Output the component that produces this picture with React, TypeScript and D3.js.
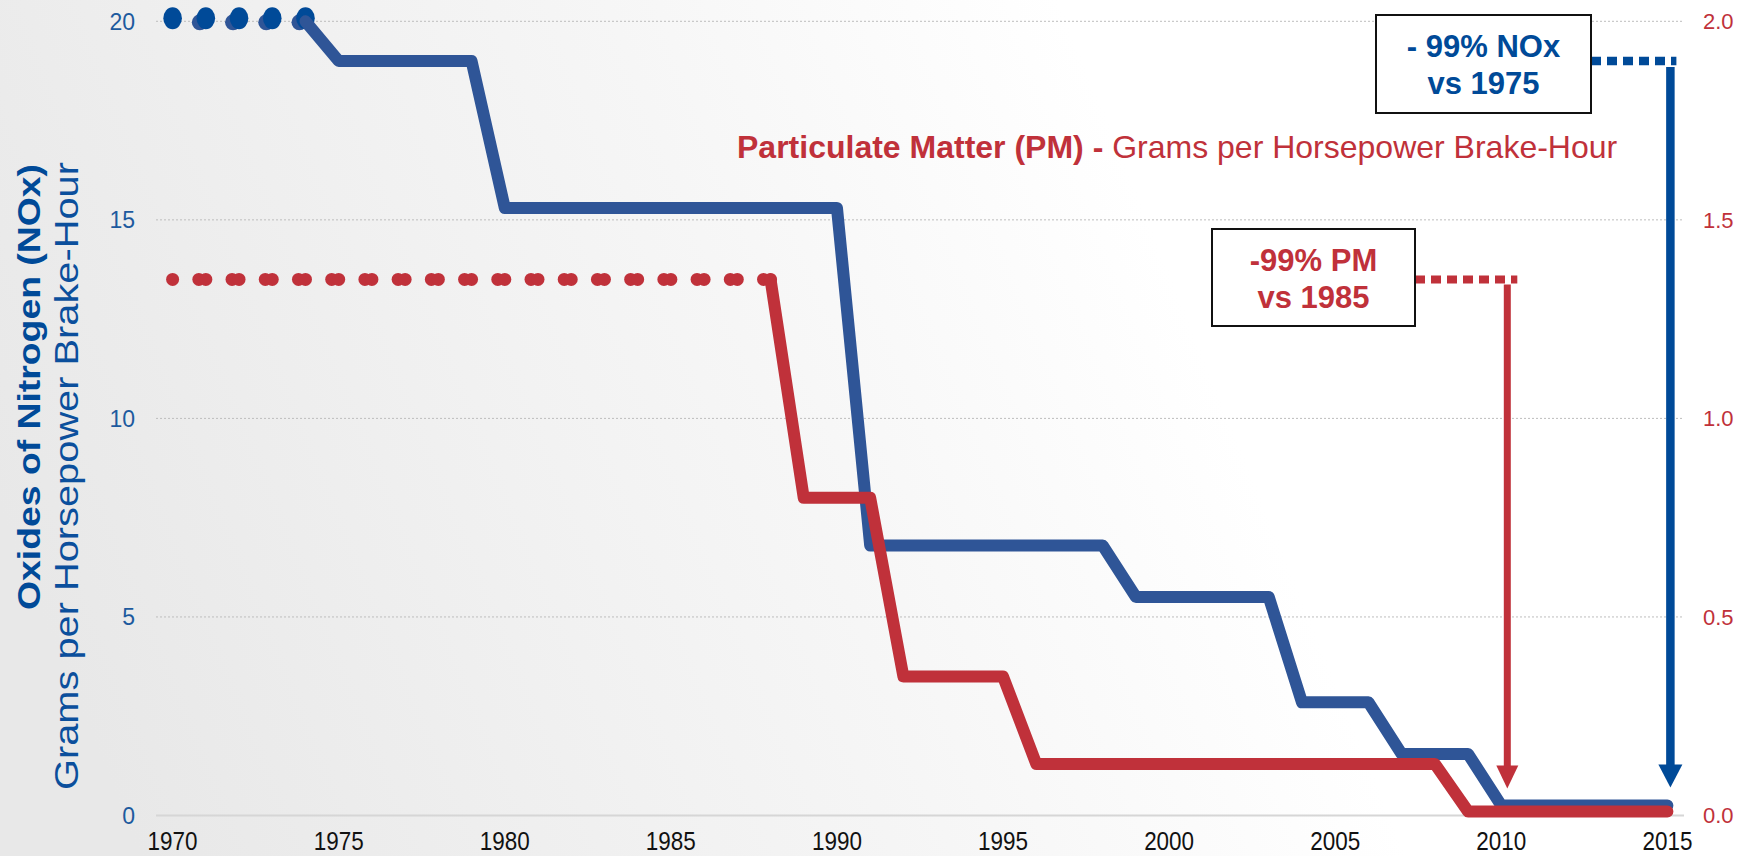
import React from 'react';
import * as d3 from 'd3';

const W = 1742;
const H = 856;

// ---- Data ----
const noxDotYears = [1970, 1971, 1972, 1973, 1974];
const noxDotValue = 20;
const noxYears = [1974, 1975, 1979, 1980, 1990, 1991, 1998, 1999, 2003, 2004, 2006, 2007, 2009, 2010, 2015];
const noxValues = [20, 19, 19, 15.3, 15.3, 6.8, 6.8, 5.5, 5.5, 2.85, 2.85, 1.55, 1.55, 0.25, 0.25];

const pmDotYears = [1970, 1971, 1972, 1973, 1974, 1975, 1976, 1977, 1978, 1979, 1980, 1981, 1982, 1983, 1984, 1985, 1986, 1987, 1988];
const pmDotValue = 1.35;
const pmYears = [1988, 1989, 1991, 1992, 1995, 1996, 2008, 2009, 2015];
const pmValues = [1.35, 0.8, 0.8, 0.35, 0.35, 0.13, 0.13, 0.01, 0.01];

const yearTicks = [1970, 1975, 1980, 1985, 1990, 1995, 2000, 2005, 2010, 2015];
const noxTicks = [0, 5, 10, 15, 20];
const pmTicks = [0, 0.5, 1.0, 1.5, 2.0];

const noxRefYear = 1975;
const noxRefValue = 19;
const pmRefYear = 1985;
const pmRefValue = 1.35;
const noxArrowYear = 2015;
const pmArrowYear = 2010;

// ---- Colors ----
const BLUE_LINE = '#2F5597';
const BLUE_DARK = '#004A98';
const BLUE_TICK = '#1D5A9E';
const RED = '#C0313A';
const FONT = '"Liberation Sans", Arial, Helvetica, sans-serif';

export default function App() {
  const x = d3.scaleLinear().domain([1969.5, 2015.5]).range([156, 1684]);
  const yL = d3.scaleLinear().domain([0, 20]).range([815.5, 21.3]);
  const yR = d3.scaleLinear().domain([0, 2]).range([815.5, 21.3]);

  const noxLine = d3
    .line<number>()
    .x((d, i) => x(noxYears[i]))
    .y((d) => yL(d))(noxValues) as string;
  const pmLine = d3
    .line<number>()
    .x((d, i) => x(pmYears[i]))
    .y((d) => yR(d))(pmValues) as string;

  const [x0, x1] = x.range();

  // annotation geometry
  const noxArrowX = x(noxArrowYear) + 3;
  const noxArrowY = yL(noxRefValue);
  const noxTipY = yL(noxValues[noxValues.length - 1]) - 18;
  const pmArrowX = x(pmArrowYear) + 6;
  const pmArrowY = yR(pmRefValue);
  const pmTipY = yR(pmValues[pmValues.length - 1]) - 23;

  const noxBox = { x: 1376, y: 15, w: 215, h: 98 };
  const pmBox = { x: 1212, y: 229, w: 203, h: 97 };

  return (
    <svg
      width={W}
      height={H}
      style={{ position: 'absolute', left: 0, top: 0, display: 'block' }}
      fontFamily={FONT}
    >
      <defs>
        <linearGradient id="bg" x1="0" y1="0.6" x2="1" y2="0.4">
          <stop offset="0" stopColor="#e8e8e8" />
          <stop offset="0.45" stopColor="#f6f6f6" />
          <stop offset="0.7" stopColor="#ffffff" />
          <stop offset="1" stopColor="#ffffff" />
        </linearGradient>
      </defs>
      <rect x={0} y={0} width={W} height={H} fill="url(#bg)" />

      {/* grid */}
      {noxTicks.map((t) =>
        t === 0 ? (
          <line key={t} x1={x0} x2={x1} y1={yL(t)} y2={yL(t)} stroke="#d6d6d6" strokeWidth={2} />
        ) : (
          <line
            key={t}
            x1={x0}
            x2={x1}
            y1={yL(t)}
            y2={yL(t)}
            stroke="#bdbdbd"
            strokeWidth={1}
            strokeDasharray="2 2"
          />
        )
      )}

      {/* left ticks */}
      {noxTicks.map((t) => (
        <text
          key={t}
          x={135}
          y={yL(t)}
          dy="0.36em"
          textAnchor="end"
          fontSize={23}
          fill={BLUE_TICK}
        >
          {t}
        </text>
      ))}

      {/* right ticks */}
      {pmTicks.map((t) => (
        <text key={t} x={1703} y={yR(t)} dy="0.36em" textAnchor="start" fontSize={22} fill={RED}>
          {d3.format('.1f')(t)}
        </text>
      ))}

      {/* year ticks */}
      {yearTicks.map((t) => (
        <text
          key={t}
          x={x(t)}
          y={850}
          textAnchor="middle"
          fontSize={26}
          fill="#111"
          textLength={50}
          lengthAdjust="spacingAndGlyphs"
        >
          {t}
        </text>
      ))}

      {/* left axis title */}
      <text
        transform={`translate(40, 387) rotate(-90)`}
        textAnchor="middle"
        fontSize={32}
        fontWeight="bold"
        fill={BLUE_DARK}
        textLength={446}
        lengthAdjust="spacingAndGlyphs"
      >
        Oxides of Nitrogen (NOx)
      </text>
      <text
        transform={`translate(78, 476) rotate(-90)`}
        textAnchor="middle"
        fontSize={33}
        fill="#0B4F9C"
        textLength={628}
        lengthAdjust="spacingAndGlyphs"
      >
        Grams per Horsepower Brake-Hour
      </text>

      {/* PM title */}
      <text x={737} y={158} fontSize={32} fill={RED}>
        <tspan fontWeight="bold">Particulate Matter (PM) -</tspan>
        <tspan> Grams per Horsepower Brake-Hour</tspan>
      </text>

      {/* NOx dotted (pre-1974) */}
      {noxDotYears.slice(1).map((yr) => (
        <ellipse key={'nb' + yr} cx={x(yr) - 6} cy={yL(noxDotValue) + 1} rx={8} ry={8} fill={BLUE_LINE} />
      ))}
      {noxDotYears.map((yr) => (
        <ellipse key={'n' + yr} cx={x(yr)} cy={yL(noxDotValue) - 3} rx={9.3} ry={11} fill={BLUE_DARK} />
      ))}

      {/* NOx line */}
      <path
        d={noxLine}
        fill="none"
        stroke={BLUE_LINE}
        strokeWidth={12}
        strokeLinejoin="round"
        strokeLinecap="round"
      />

      {/* PM dotted (pre-1988) */}
      {pmDotYears.slice(1).map((yr) => (
        <circle key={'pb' + yr} cx={x(yr) - 7} cy={yR(pmDotValue)} r={6.5} fill={RED} />
      ))}
      {pmDotYears.map((yr) => (
        <circle key={'p' + yr} cx={x(yr)} cy={yR(pmDotValue)} r={6.5} fill={RED} />
      ))}

      {/* PM line */}
      <path
        d={pmLine}
        fill="none"
        stroke={RED}
        strokeWidth={12}
        strokeLinejoin="round"
        strokeLinecap="round"
      />

      {/* NOx annotation */}
      <line
        x1={noxBox.x + noxBox.w}
        x2={noxArrowX + 6}
        y1={noxArrowY}
        y2={noxArrowY}
        stroke={BLUE_DARK}
        strokeWidth={8.5}
        strokeDasharray="10 6"
      />
      <line x1={noxArrowX} x2={noxArrowX} y1={noxArrowY + 6} y2={noxTipY - 20} stroke={BLUE_DARK} strokeWidth={8.5} />
      <polygon
        points={`${noxArrowX - 12},${noxTipY - 23} ${noxArrowX + 12},${noxTipY - 23} ${noxArrowX},${noxTipY}`}
        fill={BLUE_DARK}
      />
      <rect
        x={noxBox.x}
        y={noxBox.y}
        width={noxBox.w}
        height={noxBox.h}
        fill="#fff"
        stroke="#111"
        strokeWidth={2}
      />
      <text
        x={noxBox.x + noxBox.w / 2}
        y={57}
        textAnchor="middle"
        fontSize={31}
        fontWeight="bold"
        fill={BLUE_DARK}
      >
        - 99% NOx
      </text>
      <text
        x={noxBox.x + noxBox.w / 2}
        y={94}
        textAnchor="middle"
        fontSize={31}
        fontWeight="bold"
        fill={BLUE_DARK}
      >
        vs {noxRefYear}
      </text>

      {/* PM annotation */}
      <line
        x1={pmBox.x + pmBox.w}
        x2={pmArrowX + 10}
        y1={pmArrowY}
        y2={pmArrowY}
        stroke={RED}
        strokeWidth={8}
        strokeDasharray="10 6"
      />
      <line x1={pmArrowX} x2={pmArrowX} y1={pmArrowY + 5} y2={pmTipY - 20} stroke={RED} strokeWidth={7} />
      <polygon
        points={`${pmArrowX - 11},${pmTipY - 23} ${pmArrowX + 11},${pmTipY - 23} ${pmArrowX},${pmTipY}`}
        fill={RED}
      />
      <rect
        x={pmBox.x}
        y={pmBox.y}
        width={pmBox.w}
        height={pmBox.h}
        fill="#fff"
        stroke="#111"
        strokeWidth={2}
      />
      <text
        x={pmBox.x + pmBox.w / 2}
        y={271}
        textAnchor="middle"
        fontSize={31}
        fontWeight="bold"
        fill={RED}
      >
        -99% PM
      </text>
      <text
        x={pmBox.x + pmBox.w / 2}
        y={308}
        textAnchor="middle"
        fontSize={31}
        fontWeight="bold"
        fill={RED}
      >
        vs {pmRefYear}
      </text>
    </svg>
  );
}
